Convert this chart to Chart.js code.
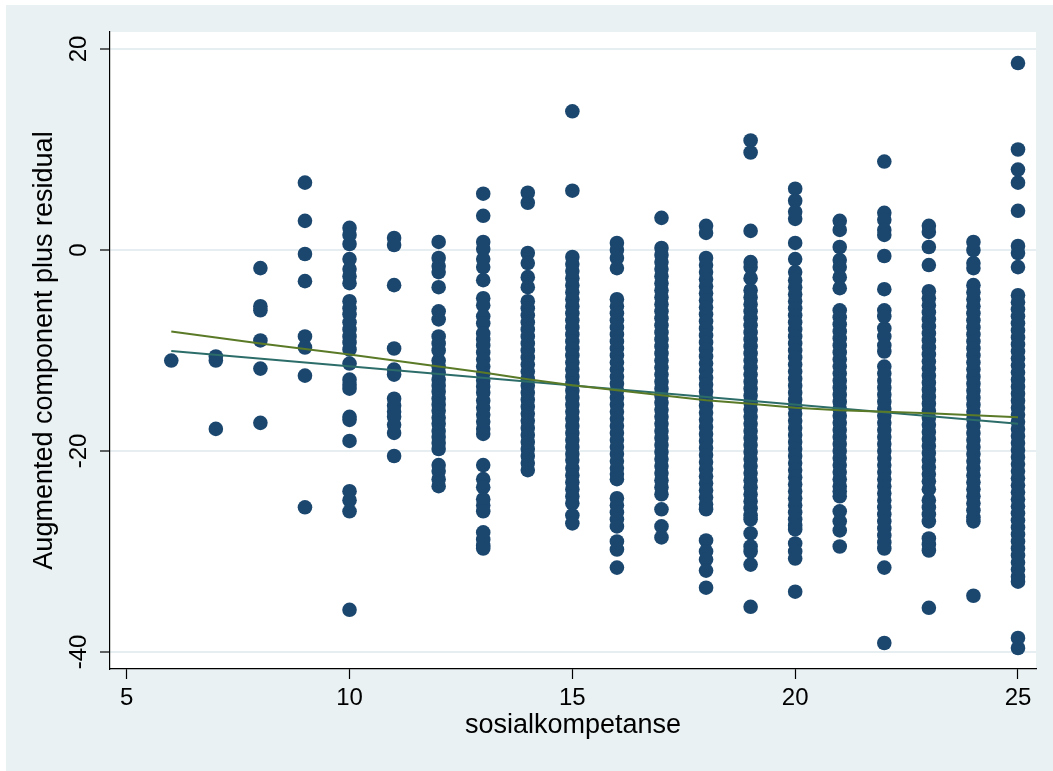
<!DOCTYPE html>
<html>
<head>
<meta charset="utf-8">
<script src="https://cdn.jsdelivr.net/npm/chart.js@4"></script>
<style>
  html, body { margin: 0; padding: 0; background: #fff; }
  canvas { display: block; }
</style>
</head>
<body>
<canvas id="cpr" width="1053" height="771"></canvas>
<script>
/* ========= DATA ========= */
const xValues = [6, 7, 8, 9, 10, 11, 12, 13, 14, 15, 16, 17, 18, 19, 20, 21, 22, 23, 24, 25];

// augmented component plus residual, one list per value of sosialkompetanse
const col6 = [-11.0];
const col7 = [-10.6, -11.0, -17.8];
const col8 = [-1.8, -5.6, -6.0, -9.0, -11.8, -17.2];
const col9 = [6.7, 2.9, -0.4, -3.1, -8.6, -9.7, -12.5, -25.6];
const col10 = [2.2, 1.5, 0.6, -0.9, -1.9, -2.6, -3.3, -5.1, -5.8, -6.4, -7.2, -7.9, -8.6, -9.2, -9.9,
  -11.3, -12.9, -13.4, -13.8, -16.6, -16.9, -19.0, -24.0, -24.9, -26.0, -35.8];
const col11 = [1.2, 0.5, -3.5, -9.8, -11.9, -12.4, -14.8, -15.5, -16.1, -16.6, -17.4, -18.2, -20.5];
const col12 = [0.8, -0.8, -1.6, -2.2, -3.7, -6.1, -6.9, -8.6, -9.3, -10.0, -11.0, -11.6, -12.2, -12.9,
  -13.5, -14.1, -14.8, -15.4, -16.0, -16.7, -17.3, -18.0, -18.6, -19.2, -19.8, -21.4, -22.0, -22.8, -23.5];
const col13 = [5.6, 3.4, 0.8, 0.1, -0.9, -1.7, -3.0, -4.8, -5.5, -6.6, -7.3, -8.3, -8.9, -9.5, -10.2,
  -10.9, -11.6, -12.3, -13.0, -13.6, -14.2, -15.0, -15.7, -16.4, -17.1, -17.8, -18.3, -21.4, -22.8,
  -23.6, -24.8, -25.4, -26.0, -28.1, -28.8, -29.4, -29.7];
const col14 = [5.7, 4.7, -0.3, -1.3, -2.7, -3.7, -5.1, -5.8, -6.5, -7.2, -7.9, -8.6, -9.3, -10.0, -10.7,
  -11.4, -12.1, -12.8, -13.5, -14.2, -14.9, -15.6, -16.3, -17.0, -17.7, -18.4, -19.1, -19.8, -20.5,
  -21.2, -21.9];
const col15 = [13.8, 5.9, -0.7, -1.4, -2.1, -2.8, -3.5, -4.2, -4.9, -5.6, -6.3, -7.0, -7.7, -8.4, -9.1,
  -9.8, -10.5, -11.2, -11.9, -12.6, -13.3, -14.0, -14.7, -15.4, -16.1, -16.8, -17.5, -18.2, -18.9,
  -19.6, -20.3, -20.9, -21.7, -22.4, -23.1, -23.8, -24.5, -25.2, -26.4, -27.2];
const col16 = [0.7, 0.0, -0.8, -1.8, -4.9, -5.6, -6.3, -7.0, -7.7, -8.4, -9.1, -9.8, -10.5, -11.2,
  -11.9, -12.6, -13.3, -14.0, -14.7, -15.4, -16.1, -16.8, -17.5, -18.2, -18.9, -19.6, -20.3, -21.0,
  -21.7, -22.3, -22.8, -24.7, -25.4, -26.1, -26.8, -27.5, -29.0, -29.8, -31.6];
const col17 = [3.2, 0.2, -0.5, -1.2, -1.9, -2.6, -3.3, -4.0, -4.7, -5.4, -6.1, -6.8, -7.5, -8.2, -8.9,
  -9.6, -10.3, -11.0, -11.7, -12.4, -13.1, -13.8, -14.5, -15.2, -15.9, -16.6, -17.3, -18.0, -18.7,
  -19.4, -20.1, -20.8, -21.5, -22.2, -22.9, -23.6, -24.3, -25.8, -27.5, -28.6];
const col18 = [2.4, 1.7, -0.8, -1.5, -2.2, -2.9, -3.6, -4.3, -5.0, -5.7, -6.4, -7.1, -7.8, -8.5, -9.2,
  -9.9, -10.6, -11.3, -12.0, -12.7, -13.4, -14.1, -14.8, -15.5, -16.2, -16.9, -17.6, -18.3, -19.0,
  -19.7, -20.4, -21.1, -21.8, -22.5, -23.2, -23.9, -24.6, -25.3, -25.8, -28.9, -30.0, -30.8, -31.9, -33.6];
const col19 = [10.9, 9.7, 1.9, -1.2, -1.7, -2.8, -4.0, -4.7, -5.4, -6.1, -6.8, -7.5, -8.2, -8.9, -9.6,
  -10.3, -11.0, -11.7, -12.4, -13.1, -13.8, -14.5, -15.2, -15.9, -16.6, -17.3, -18.0, -18.7, -19.4,
  -20.1, -20.8, -21.5, -22.2, -22.9, -23.6, -24.3, -25.0, -25.7, -26.4, -26.8, -28.2, -29.5, -30.0,
  -31.3, -35.5];
const col20 = [6.1, 4.9, 3.8, 3.1, 0.7, -0.9, -2.2, -3.0, -3.7, -4.4, -5.1, -5.8, -6.5, -7.2, -7.9,
  -8.6, -9.3, -10.0, -10.7, -11.4, -12.1, -12.8, -13.5, -14.2, -14.9, -15.6, -16.3, -17.0, -17.7,
  -18.4, -19.1, -19.8, -20.5, -21.2, -21.9, -22.6, -23.3, -24.0, -24.7, -25.4, -26.1, -26.8, -27.4,
  -27.8, -29.2, -30.0, -30.7, -34.0];
const col21 = [2.9, 2.0, 0.3, -1.0, -1.7, -2.7, -3.8, -6.0, -6.7, -7.4, -8.1, -8.8, -9.5, -10.2, -10.9,
  -11.6, -12.3, -13.0, -13.7, -14.4, -15.1, -15.8, -16.5, -17.2, -17.9, -18.6, -19.3, -20.0, -20.7,
  -21.4, -22.1, -22.8, -23.5, -24.0, -24.5, -26.0, -27.0, -27.9, -29.5];
const col22 = [8.8, 3.7, 3.0, 2.0, 1.5, -0.6, -3.9, -6.0, -6.6, -7.8, -8.6, -9.5, -10.1, -11.6, -12.3,
  -13.0, -13.7, -14.4, -15.1, -15.8, -16.5, -17.2, -17.9, -18.6, -19.3, -20.0, -20.7, -21.4, -22.1,
  -22.8, -23.5, -24.2, -24.9, -25.6, -26.3, -27.0, -27.7, -28.4, -29.1, -29.7, -31.6, -39.1];
const col23 = [2.4, 1.8, 0.3, -1.5, -4.1, -4.8, -5.5, -6.2, -6.9, -7.6, -8.3, -9.0, -9.7, -10.4, -11.1,
  -11.8, -12.5, -13.2, -13.9, -14.6, -15.3, -16.0, -16.7, -17.4, -18.1, -18.8, -19.5, -20.2, -20.9,
  -21.6, -22.3, -23.0, -23.8, -24.9, -25.6, -26.3, -27.0, -28.7, -29.3, -29.9, -35.6];
const col24 = [0.8, 0.0, -1.3, -1.8, -3.5, -4.2, -4.9, -5.6, -6.3, -7.0, -7.7, -8.4, -9.1, -9.8, -10.5,
  -11.2, -11.9, -12.6, -13.3, -14.0, -14.7, -15.4, -16.1, -16.8, -17.5, -18.2, -18.9, -19.6, -20.3,
  -21.0, -21.7, -22.4, -23.1, -23.8, -24.5, -25.2, -25.9, -26.6, -27.0, -34.4];
const col25 = [18.6, 10.0, 8.0, 6.7, 3.9, 0.4, -0.3, -1.7, -4.5, -5.2, -5.9, -6.6, -7.3, -8.0, -8.7,
  -9.4, -10.1, -10.8, -11.5, -12.2, -12.9, -13.6, -14.3, -15.0, -15.7, -16.4, -17.1, -17.8, -18.5,
  -19.2, -19.9, -20.6, -21.3, -22.0, -22.7, -23.4, -24.1, -24.8, -25.5, -26.2, -26.9, -27.6, -28.3,
  -29.0, -29.7, -30.4, -31.1, -31.8, -32.5, -33.0, -38.6, -39.6];
const columns = [col6, col7, col8, col9, col10, col11, col12, col13, col14, col15,
  col16, col17, col18, col19, col20, col21, col22, col23, col24, col25];

// lowess smooth, read at each x value
const lowessY = [-8.1, -8.7, -9.3, -9.85, -10.4, -11.0, -11.6, -12.2, -12.85, -13.45,
  -13.95, -14.45, -14.95, -15.3, -15.7, -15.95, -16.1, -16.25, -16.45, -16.65];

// linear fit (component line)
const fitX = [6, 25];
const fitY = [-10.05, -17.3];

const xTicks = [5, 10, 15, 20, 25];
const yTicks = [-40, -20, 0, 20];

/* ========= HELPERS ========= */
const byId = id => document.getElementById(id);
const FONT = '"Liberation Sans", Arial, Helvetica, sans-serif';

const points = [];
xValues.forEach((x, i) => columns[i].forEach(y => points.push({ x, y })));
const lowessPts = xValues.map((x, i) => ({ x, y: lowessY[i] }));
const fitPts = fitX.map((x, i) => ({ x, y: fitY[i] }));

// Stata-like graph region: light bluish frame, white plot region
const bgPlugin = {
  id: 'bg',
  beforeDraw(chart) {
    const { ctx, chartArea: a, width, height } = chart;
    ctx.save();
    ctx.fillStyle = '#ffffff';
    ctx.fillRect(0, 0, width, height);
    ctx.fillStyle = '#e9f1f3';
    ctx.fillRect(6, 5, width - 6, height - 5);
    ctx.fillStyle = '#ffffff';
    ctx.fillRect(a.left, a.top, a.right - a.left, a.bottom - a.top);
    ctx.restore();
  }
};

/* ========= CHART ========= */
new Chart(byId('cpr').getContext('2d'), {
  type: 'scatter',
  data: {
    datasets: [
      {
        label: 'lowess',
        data: lowessPts,
        showLine: true,
        borderColor: '#5b7a27',
        borderWidth: 2,
        pointRadius: 0,
        order: 0
      },
      {
        label: 'fit',
        data: fitPts,
        showLine: true,
        borderColor: '#2c6d69',
        borderWidth: 2,
        pointRadius: 0,
        order: 1
      },
      {
        label: 'residuals',
        data: points,
        backgroundColor: '#1b476f',
        borderWidth: 0,
        pointRadius: 7.3,
        order: 2
      }
    ]
  },
  options: {
    responsive: false,
    animation: false,
    events: [],
    layout: { padding: { top: 32, right: 17, bottom: 0, left: 0 } },
    plugins: { legend: { display: false }, tooltip: { enabled: false } },
    scales: {
      x: {
        type: 'linear',
        min: 4.625,
        max: 25.404,
        afterBuildTicks: s => { s.ticks = xTicks.map(v => ({ value: v })); },
        afterFit: s => { s.height = 102; },
        grid: { drawOnChartArea: false, tickColor: '#000', tickLength: 10, tickWidth: 1.2 },
        border: { color: '#000', width: 1.2 },
        ticks: { color: '#000', font: { family: FONT, size: 24 }, padding: 5, maxRotation: 0 },
        title: {
          display: true,
          text: 'sosialkompetanse',
          color: '#000',
          font: { family: FONT, size: 27 },
          padding: { top: 0, bottom: 28.8 }
        }
      },
      y: {
        type: 'linear',
        min: -41.69,
        max: 21.69,
        afterBuildTicks: s => { s.ticks = yTicks.map(v => ({ value: v })); },
        afterFit: s => { s.width = 110; },
        grid: { color: '#e6eef1', lineWidth: 2, tickColor: '#000', tickLength: 10, tickWidth: 1.2 },
        border: { color: '#000', width: 1.2 },
        ticks: {
          color: '#000',
          font: { family: FONT, size: 24 },
          padding: 3.6,
          minRotation: 90,
          maxRotation: 90,
          crossAlign: 'center'
        },
        title: {
          display: true,
          text: 'Augmented component plus residual',
          color: '#000',
          font: { family: FONT, size: 27 },
          padding: { top: 28.4, bottom: 0 }
        }
      }
    }
  },
  plugins: [bgPlugin]
});
</script>
</body>
</html>
